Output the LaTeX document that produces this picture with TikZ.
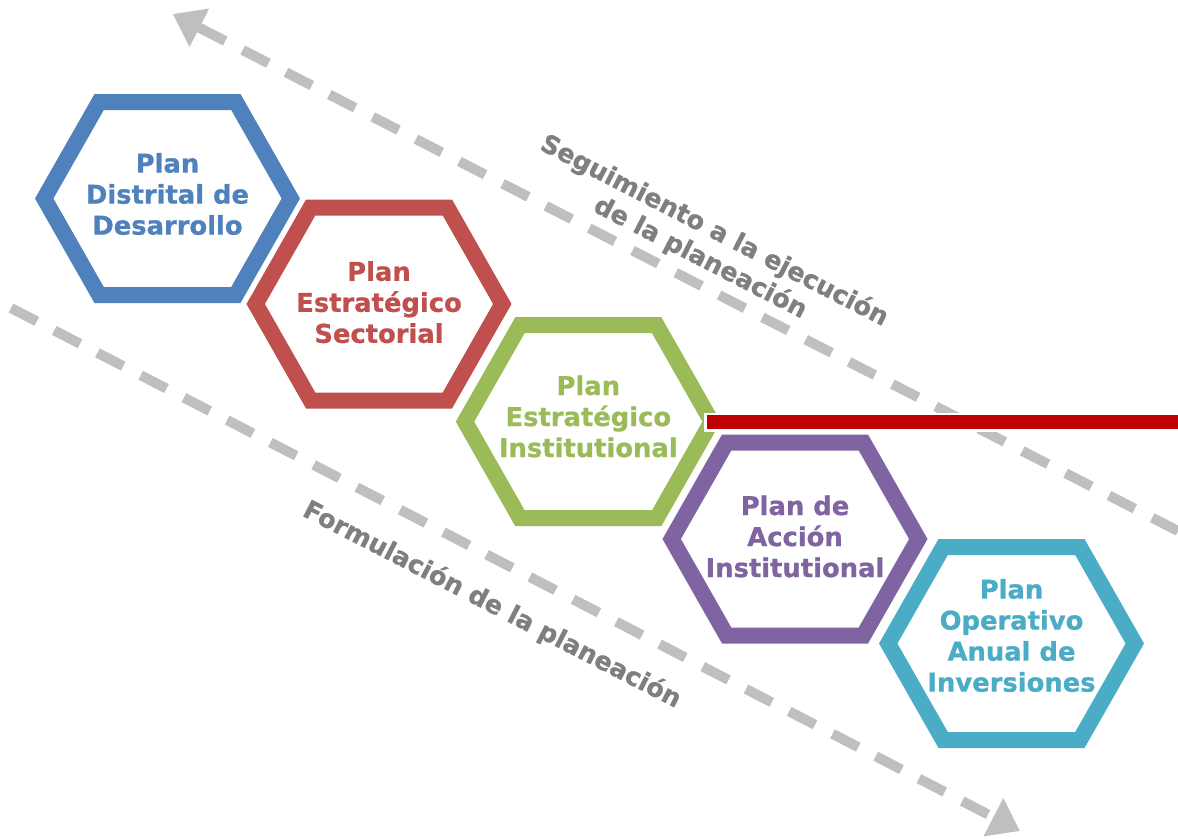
\documentclass[tikz,border=0pt]{standalone}
\usepackage{fontspec}
\setmainfont{DejaVu Sans}[BoldFeatures={FakeBold=0.8}]
\usetikzlibrary{arrows.meta}
\definecolor{cblue}{HTML}{4F81BD}
\definecolor{cred}{HTML}{C0504D}
\definecolor{cgreen}{HTML}{9BBB59}
\definecolor{cpurple}{HTML}{8064A2}
\definecolor{cteal}{HTML}{4BACC6}
\definecolor{cbar}{HTML}{C00000}
\definecolor{cdash}{HTML}{BFBFBF}
\definecolor{cgray}{HTML}{7F7F7F}
\begin{document}
\begin{tikzpicture}[x=1pt,y=-1pt,
  halo/.style={draw=white, line width=21pt, line join=miter},
  hexline/.style={line width=16pt, line join=miter, fill=white},
  htext/.style={font=\fontsize{25.8}{31}\selectfont\bfseries, align=center, inner sep=0pt},
  lbl/.style={font=\fontsize{25.5}{30.5}\selectfont\bfseries, text=cgray, align=center, rotate=-27.25, inner sep=0pt},
  darrow/.style={draw=cdash, line width=10pt, dash pattern=on 29pt off 19.7pt, -{Triangle[length=30pt,width=41pt,fill=cdash]}}]
\useasboundingbox[fill=white] (0,0) rectangle (1178,838);
% dashed arrows
\coordinate (s1) at (1178,531);
\coordinate (e1) at (172.7,14);
\coordinate (s2) at (11,308);
\coordinate (e2) at (1020,831);
\draw[darrow] (s1) -- (e1);
\draw[darrow] (s2) -- (e2);
% hexagons
\foreach \n/\c/\px/\py in {1/cblue/167.5/198.5, 2/cred/379/304, 3/cgreen/588.3/421.7, 4/cpurple/795/539, 5/cteal/1011.5/643.5}{
  \coordinate (c\n) at (\px,\py);
  \draw[halo, shift={(c\n)}] (-123.3,0) -- (-68.35,-96.5) -- (68.35,-96.5) -- (123.3,0) -- (68.35,96.5) -- (-68.35,96.5) -- cycle;
  \draw[hexline, draw=\c, shift={(c\n)}] (-123.3,0) -- (-68.35,-96.5) -- (68.35,-96.5) -- (123.3,0) -- (68.35,96.5) -- (-68.35,96.5) -- cycle;
}
% texts
\node[htext, text=cblue] (t1) at (167.5,194) {Plan\\Distrital de\\Desarrollo};
\node[htext, text=cred] (t2) at (379,302.2) {Plan\\Estratégico\\Sectorial};
\node[htext, text=cgreen] (t3) at (588.3,416.4) {Plan\\Estratégico\\Institutional};
\node[htext, text=cpurple] (t4) at (795,536.4) {Plan de\\Acción\\Institutional};
\node[htext, text=cteal] (t5) at (1011.5,635.5) {Plan\\Operativo\\Anual de\\Inversiones};
% red bar
\coordinate (b1) at (706.7,422);
\coordinate (b2) at (1180,422);
\fill[white] ([shift={(-2.5,-9.5)}]b1) rectangle ([shift={(0,9.5)}]b2);
\draw[cbar, line width=14pt] (b1) -- (b2);
% labels
\node[lbl] (l1) at (707.3,244.5) {Seguimiento a la ejecución\\de la planeación};
\node[lbl] (l2) at (492,605) {Formulación de la planeación};
\end{tikzpicture}
\end{document}
